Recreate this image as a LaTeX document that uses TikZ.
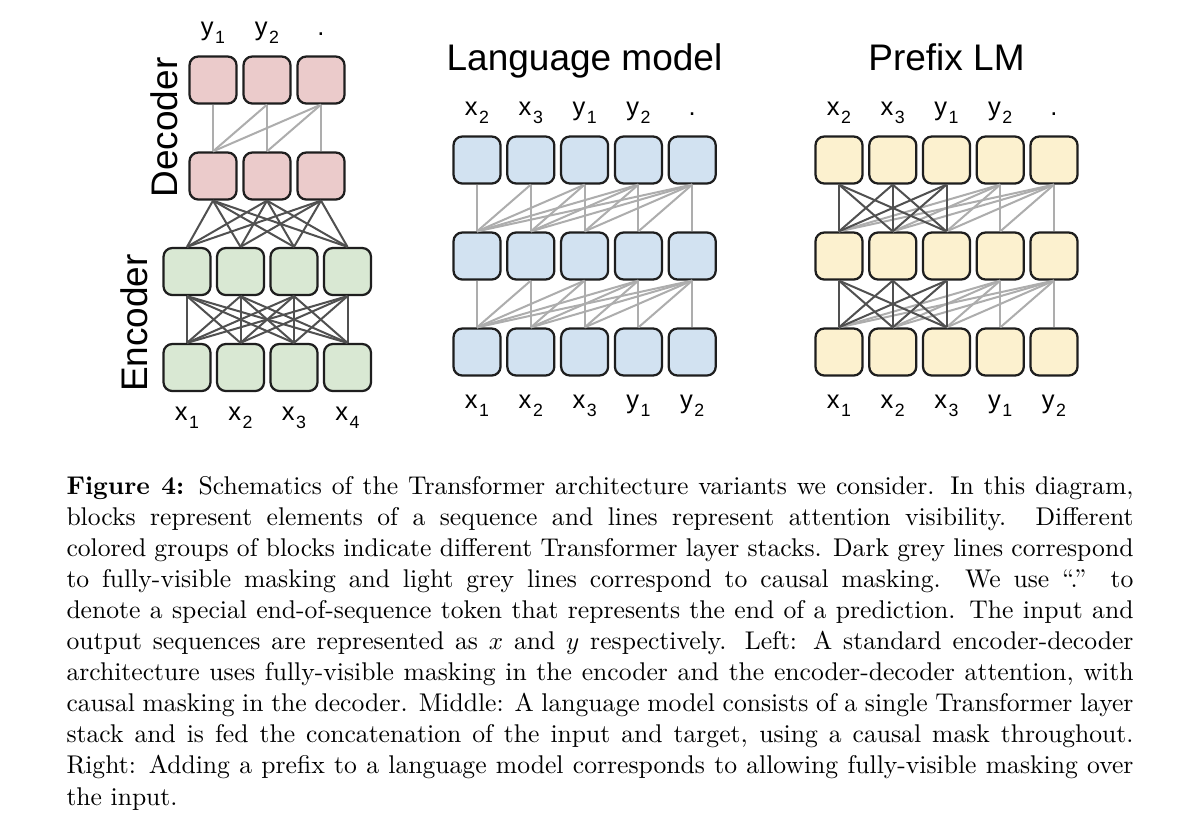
\documentclass[tikz,border=0pt]{standalone}
\usepackage{fontspec}
\newfontfamily\sansf{Liberation Sans}
\definecolor{decc}{HTML}{EBCBCB}
\definecolor{encc}{HTML}{D9E8D3}
\definecolor{lmc}{HTML}{D2E2F1}
\definecolor{plc}{HTML}{FCF1CF}
\definecolor{bordc}{HTML}{1E1E1E}
\definecolor{darkln}{HTML}{505050}
\definecolor{lightln}{HTML}{ADADAD}
\newcommand\tok[2]{#1\kern0.06em\raisebox{-3.3pt}{\fontsize{7.1pt}{8pt}\selectfont #2}}
\begin{document}
\begin{tikzpicture}[x=0.4pt,y=-0.4pt,
  blk/.style={draw=bordc, line width=0.9pt, rounded corners=3.5pt, minimum width=18.8pt, minimum height=18.8pt, inner sep=0pt},
  dk/.style={draw=darkln, line width=0.8pt},
  lt/.style={draw=lightln, line width=0.8pt},
  lab/.style={font=\sansf\fontsize{10.2pt}{12pt}\selectfont, inner sep=0pt, anchor=base},
  ttl/.style={font=\sansf\fontsize{14.8pt}{17pt}\selectfont, inner sep=0pt, anchor=base}]
\fill[white] (0,0) rectangle (1200,828);
\useasboundingbox (0,0) rectangle (1200,828);

% ---------- Left: encoder-decoder ----------
\foreach \i/\x in {1/213,2/267,3/321} {
  \node[blk,fill=decc] (LD2-\i) at (\x,80) {};
  \node[blk,fill=decc] (LD1-\i) at (\x,176) {};
}
\foreach \i/\x in {1/187,2/240.5,3/294,4/347.5} {
  \node[blk,fill=encc] (LE2-\i) at (\x,271.5) {};
  \node[blk,fill=encc] (LE1-\i) at (\x,367.5) {};
}
\foreach \i in {1,2,3}{\foreach \j in {1,...,\i}{\draw[lt] (LD2-\i.south) -- (LD1-\j.north);}}
\foreach \i in {1,2,3}{\foreach \j in {1,...,4}{\draw[dk] (LD1-\i.south) -- (LE2-\j.north);}}
\foreach \i in {1,...,4}{\foreach \j in {1,...,4}{\draw[dk] (LE2-\i.south) -- (LE1-\j.north);}}

\node[lab] (Lt1) at (213,35) {\tok{y}{1}};
\node[lab] (Lt2) at (267,35) {\tok{y}{2}};
\node[lab] (Lt3) at (321,35) {.};
\node[lab] (Lb1) at (187,420) {\tok{x}{1}};
\node[lab] (Lb2) at (240.5,420) {\tok{x}{2}};
\node[lab] (Lb3) at (294,420) {\tok{x}{3}};
\node[lab] (Lb4) at (347.5,420) {\tok{x}{4}};
\node[ttl,rotate=90] (tdec) at (177,127.5) {Decoder};
\node[ttl,rotate=90] (tenc) at (147,323) {Encoder};

% ---------- Middle: language model ----------
\foreach \i in {1,...,5} {
  \pgfmathsetmacro\x{477+53.8*(\i-1)}
  \node[blk,fill=lmc] (M3-\i) at (\x,160) {};
  \node[blk,fill=lmc] (M2-\i) at (\x,256) {};
  \node[blk,fill=lmc] (M1-\i) at (\x,352) {};
}
\foreach \r/\s in {3/2,2/1}{\foreach \i in {1,...,5}{\foreach \j in {1,...,\i}{\draw[lt] (M\r-\i.south) -- (M\s-\j.north);}}}
\node[ttl] (tlm) at (584.5,70) {Language model};
\foreach \i/\t in {1/{\tok{x}{2}},2/{\tok{x}{3}},3/{\tok{y}{1}},4/{\tok{y}{2}},5/{.}} {
  \pgfmathsetmacro\x{477+53.8*(\i-1)}
  \node[lab] (Mt\i) at (\x,115) {\t};
}
\foreach \i/\t in {1/{\tok{x}{1}},2/{\tok{x}{2}},3/{\tok{x}{3}},4/{\tok{y}{1}},5/{\tok{y}{2}}} {
  \pgfmathsetmacro\x{477+53.8*(\i-1)}
  \node[lab] (Mb\i) at (\x,408) {\t};
}

% ---------- Right: prefix LM ----------
\foreach \i in {1,...,5} {
  \pgfmathsetmacro\x{839+53.75*(\i-1)}
  \node[blk,fill=plc] (P3-\i) at (\x,160) {};
  \node[blk,fill=plc] (P2-\i) at (\x,256) {};
  \node[blk,fill=plc] (P1-\i) at (\x,352) {};
}
\foreach \r/\s in {3/2,2/1}{
  \foreach \i in {4,5}{\foreach \j in {1,...,\i}{\draw[lt] (P\r-\i.south) -- (P\s-\j.north);}}
  \foreach \i in {1,2,3}{\foreach \j in {1,2,3}{\draw[dk] (P\r-\i.south) -- (P\s-\j.north);}}
}
\node[ttl] (tpl) at (946.5,70) {Prefix LM};
\foreach \i/\t in {1/{\tok{x}{2}},2/{\tok{x}{3}},3/{\tok{y}{1}},4/{\tok{y}{2}},5/{.}} {
  \pgfmathsetmacro\x{839+53.75*(\i-1)}
  \node[lab] (Pt\i) at (\x,115) {\t};
}
\foreach \i/\t in {1/{\tok{x}{1}},2/{\tok{x}{2}},3/{\tok{x}{3}},4/{\tok{y}{1}},5/{\tok{y}{2}}} {
  \pgfmathsetmacro\x{839+53.75*(\i-1)}
  \node[lab] (Pb\i) at (\x,408) {\t};
}

% ---------- Caption ----------
\node[anchor=base west, inner sep=0pt] (cap) at (66,494) {\parbox[t]{426.8pt}{\fontsize{10.25pt}{12.44pt}\selectfont
\textbf{Figure 4:} Schematics of the Transformer architecture variants we consider. In this diagram,\linebreak
blocks represent elements of a sequence and lines represent attention visibility. Different\linebreak
colored groups of blocks indicate different Transformer layer stacks. Dark grey lines correspond\linebreak
to fully-visible masking and light grey lines correspond to causal masking. We use ``.'' to\linebreak
denote a special end-of-sequence token that represents the end of a prediction. The input and\linebreak
output sequences are represented as $x$ and $y$ respectively. Left: A standard encoder-decoder\linebreak
architecture uses fully-visible masking in the encoder and the encoder-decoder attention, with\linebreak
causal masking in the decoder. Middle: A language model consists of a single Transformer layer\linebreak
stack and is fed the concatenation of the input and target, using a causal mask throughout.\linebreak
Right: Adding a prefix to a language model corresponds to allowing fully-visible masking over\linebreak
the input.}};
\end{tikzpicture}
\end{document}
